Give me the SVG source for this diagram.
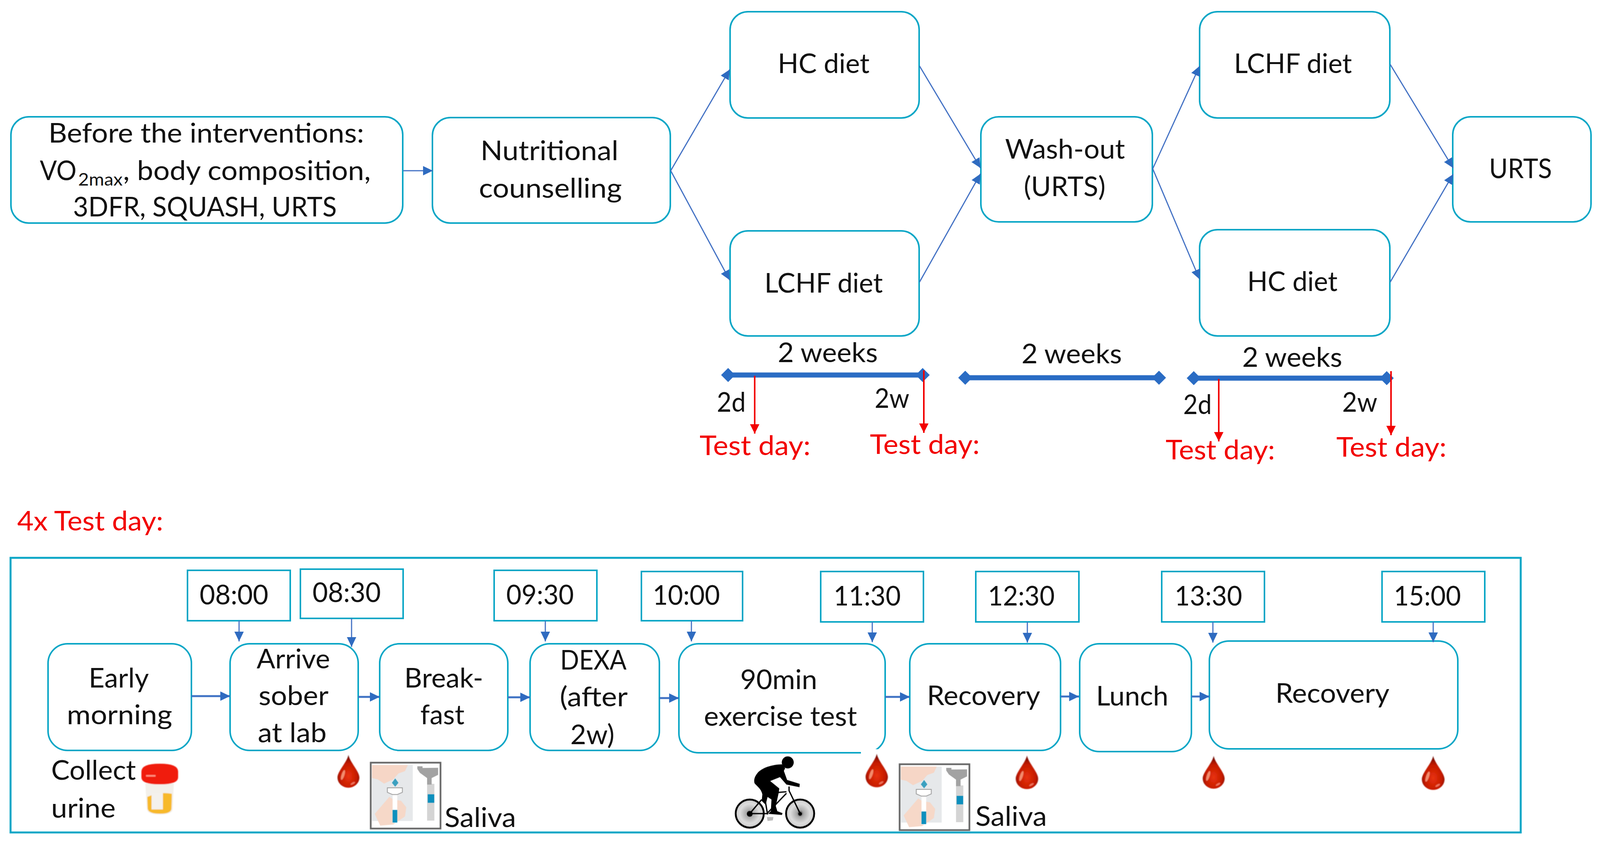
<svg xmlns="http://www.w3.org/2000/svg" width="4097" height="2158" viewBox="0 0 4097 2158">
<style>
text{font-family:"Lato","Carlito","Open Sans",sans-serif;font-size:69px;fill:#111}
.red{fill:#f20000}
.sub{font-size:44px}
.n{fill:#fff;stroke:#0aa6c6;stroke-width:4}
.a{fill:none;stroke:#4472c4;stroke-width:3;marker-end:url(#ah)}
.h{fill:none;stroke:#3f72c4;stroke-width:5;marker-end:url(#ah)}
.b{fill:none;stroke:#2a6cc4;stroke-width:13;marker-start:url(#dm);marker-end:url(#dm)}
.r{fill:none;stroke:#f20000;stroke-width:4;marker-end:url(#ar)}
.soft{filter:url(#sf)}
</style>
<defs>
<filter id="sf" x="-5%" y="-5%" width="110%" height="110%"><feGaussianBlur stdDeviation="1.2"/></filter>
<marker id="ah" markerUnits="userSpaceOnUse" markerWidth="26" markerHeight="26" refX="25" refY="12" orient="auto"><path d="M0,0L25,12L0,24Z" fill="#2f6bc0"/></marker>
<marker id="ar" markerUnits="userSpaceOnUse" markerWidth="26" markerHeight="26" refX="24" refY="12" orient="auto"><path d="M0,0L24,12L0,24Z" fill="#f20000"/></marker>
<marker id="dm" markerUnits="userSpaceOnUse" markerWidth="36" markerHeight="36" refX="18" refY="18" orient="auto"><path d="M0,18L18,0L36,18L18,36Z" fill="#2a6cc4"/></marker>
<radialGradient id="dg" cx=".5" cy=".65" r=".6"><stop offset="0" stop-color="#e83208"/><stop offset=".65" stop-color="#c41a05"/><stop offset="1" stop-color="#6e0800"/></radialGradient>
<radialGradient id="wg" cx=".5" cy=".5" r=".5"><stop offset="0" stop-color="#333"/><stop offset=".25" stop-color="#aaa"/><stop offset=".7" stop-color="#ddd"/><stop offset="1" stop-color="#ccc"/></radialGradient>
<symbol id="drop" viewBox="0 0 60 90"><path d="M30,0C34,20 60,45 60,62C60,78 46,90 30,90C14,90 0,78 0,62C0,45 26,20 30,0Z" fill="url(#dg)"/><ellipse cx="15" cy="55" rx="4" ry="14" transform="rotate(18 15 55)" fill="#ffb090" opacity=".75"/><ellipse cx="42" cy="78" rx="7" ry="2.5" transform="rotate(-30 42 78)" fill="#ff9a80" opacity=".7"/></symbol>
<g id="saliva-art">
<rect x="327" y="157" width="536" height="506" fill="#fff" stroke="#666" stroke-width="13"/>
<rect x="337" y="175" width="313" height="430" fill="#e6e8ea"/>
<path d="M337,175H612L590,222L540,240L500,285L430,318L380,285L337,275Z" fill="#f6d6c6"/>
<path d="M358,550L470,420L500,440L560,450L600,500L590,570L500,632L400,640Z" fill="#f6d8c8"/>
<rect x="495" y="390" width="36" height="230" fill="#fff"/>
<rect x="495" y="520" width="36" height="97" fill="#0e8fbd"/>
<path d="M455,350H570V385L530,402H495L455,385Z" fill="#fff" stroke="#999" stroke-width="6"/>
<path d="M515,278L540,312L515,342L490,312Z" fill="#3aa0c0"/>
<rect x="760" y="320" width="56" height="282" fill="#d4d4d4"/>
<rect x="765" y="400" width="50" height="65" fill="#0e8fbd"/>
<path d="M685,185H725V198L845,196V250L795,275V325H760V275L705,235L685,205Z" fill="#a2a2a2"/>
</g>
</defs>
<rect width="4097" height="2158" fill="#fff"/>

<g id="frame"><rect x="27" y="1428" width="3866" height="703" fill="none" stroke="#0aa6c6" stroke-width="5"/></g>

<g id="node-before"><rect class="n" x="28" y="299" width="1003" height="272" rx="46"/>
<text x="124" y="365" textLength="808" lengthAdjust="spacingAndGlyphs">Before the interventions:</text>
<text y="461"><tspan x="102" textLength="94" lengthAdjust="spacingAndGlyphs">VO</tspan><tspan class="sub" x="200" dy="14" textLength="114" lengthAdjust="spacingAndGlyphs">2max</tspan><tspan x="315" dy="-14" textLength="634" lengthAdjust="spacingAndGlyphs">, body composition,</tspan></text>
<text x="187" y="554" textLength="675" lengthAdjust="spacingAndGlyphs">3DFR, SQUASH, URTS</text></g>
<g id="node-counselling"><rect class="n" x="1107" y="301" width="609" height="270" rx="46"/>
<text x="1230" y="410" textLength="353" lengthAdjust="spacingAndGlyphs">Nutritional</text>
<text x="1226" y="506" textLength="366" lengthAdjust="spacingAndGlyphs">counselling</text></g>
<g id="node-hc1"><rect class="n" x="1869" y="30" width="484" height="272" rx="46"/>
<text x="1991" y="187" textLength="235" lengthAdjust="spacingAndGlyphs">HC diet</text></g>
<g id="node-lchf1"><rect class="n" x="1869" y="591" width="484" height="269" rx="46"/>
<text x="1957" y="749" textLength="303" lengthAdjust="spacingAndGlyphs">LCHF diet</text></g>
<g id="node-washout"><rect class="n" x="2511" y="299" width="439" height="269" rx="46"/>
<text x="2573" y="406" textLength="307" lengthAdjust="spacingAndGlyphs">Wash-out</text>
<text x="2621" y="502" textLength="209" lengthAdjust="spacingAndGlyphs">(URTS)</text></g>
<g id="node-lchf2"><rect class="n" x="3071" y="30" width="487" height="272" rx="46"/>
<text x="3159" y="187" textLength="302" lengthAdjust="spacingAndGlyphs">LCHF diet</text></g>
<g id="node-hc2"><rect class="n" x="3071" y="588" width="487" height="272" rx="46"/>
<text x="3193" y="745" textLength="231" lengthAdjust="spacingAndGlyphs">HC diet</text></g>
<g id="node-urts"><rect class="n" x="3719" y="299" width="354" height="269" rx="46"/>
<text x="3812" y="456" textLength="161" lengthAdjust="spacingAndGlyphs">URTS</text></g>

<g id="node-early"><rect class="n" x="123" y="1648" width="367" height="273" rx="50"/>
<text x="227" y="1760" textLength="154" lengthAdjust="spacingAndGlyphs">Early</text>
<text x="171" y="1854" textLength="270" lengthAdjust="spacingAndGlyphs">morning</text></g>
<g id="node-arrive"><rect class="n" x="589" y="1648" width="328" height="273" rx="50"/>
<text x="657" y="1711" textLength="188" lengthAdjust="spacingAndGlyphs">Arrive</text>
<text x="662" y="1805" textLength="179" lengthAdjust="spacingAndGlyphs">sober</text>
<text x="660" y="1900" textLength="176" lengthAdjust="spacingAndGlyphs">at lab</text></g>
<g id="node-breakfast"><rect class="n" x="972" y="1648" width="328" height="273" rx="50"/>
<text x="1035" y="1760" textLength="202" lengthAdjust="spacingAndGlyphs">Break-</text>
<text x="1076" y="1854" textLength="113" lengthAdjust="spacingAndGlyphs">fast</text></g>
<g id="node-dexa"><rect class="n" x="1357" y="1648" width="331" height="273" rx="50"/>
<text x="1434" y="1714" textLength="170" lengthAdjust="spacingAndGlyphs">DEXA</text>
<text x="1433" y="1808" textLength="174" lengthAdjust="spacingAndGlyphs">(after</text>
<text x="1460" y="1905" textLength="113" lengthAdjust="spacingAndGlyphs">2w)</text></g>
<g id="node-exercise"><rect class="n" x="1738" y="1648" width="528" height="279" rx="50"/>
<rect x="2204" y="1918" width="44" height="16" fill="#fff"/>
<text x="1895" y="1764" textLength="197" lengthAdjust="spacingAndGlyphs">90min</text>
<text x="1802" y="1858" textLength="392" lengthAdjust="spacingAndGlyphs">exercise test</text></g>
<g id="node-recovery1"><rect class="n" x="2329" y="1648" width="386" height="273" rx="50"/>
<text x="2373" y="1805" textLength="290" lengthAdjust="spacingAndGlyphs">Recovery</text></g>
<g id="node-lunch"><rect class="n" x="2764" y="1648" width="286" height="276" rx="50"/>
<text x="2806" y="1806" textLength="185" lengthAdjust="spacingAndGlyphs">Lunch</text></g>
<g id="node-recovery2"><rect class="n" x="3096" y="1641" width="636" height="276" rx="50"/>
<text x="3265" y="1799" textLength="292" lengthAdjust="spacingAndGlyphs">Recovery</text></g>

<g id="time-0800"><rect class="n" x="480" y="1460" width="263" height="129"/><text x="511" y="1547" textLength="176" lengthAdjust="spacingAndGlyphs">08:00</text></g>
<g id="time-0830"><rect class="n" x="769" y="1457" width="263" height="126"/><text x="800" y="1541" textLength="175" lengthAdjust="spacingAndGlyphs">08:30</text></g>
<g id="time-0930"><rect class="n" x="1265" y="1460" width="263" height="129"/><text x="1296" y="1547" textLength="173" lengthAdjust="spacingAndGlyphs">09:30</text></g>
<g id="time-1000"><rect class="n" x="1642" y="1463" width="259" height="126"/><text x="1671" y="1548" textLength="172" lengthAdjust="spacingAndGlyphs">10:00</text></g>
<g id="time-1130"><rect class="n" x="2101" y="1463" width="263" height="129"/><text x="2134" y="1550" textLength="172" lengthAdjust="spacingAndGlyphs">11:30</text></g>
<g id="time-1230"><rect class="n" x="2498" y="1463" width="264" height="129"/><text x="2529" y="1550" textLength="171" lengthAdjust="spacingAndGlyphs">12:30</text></g>
<g id="time-1330"><rect class="n" x="2974" y="1463" width="263" height="129"/><text x="3007" y="1550" textLength="173" lengthAdjust="spacingAndGlyphs">13:30</text></g>
<g id="time-1500"><rect class="n" x="3538" y="1463" width="263" height="129"/><text x="3568" y="1550" textLength="172" lengthAdjust="spacingAndGlyphs">15:00</text></g>

<g id="connectors">
<path class="a" d="M1032,437H1108"/>
<path class="a" d="M1717,437L1868,178"/>
<path class="a" d="M1717,437L1868,717"/>
<path class="a" d="M2354,169L2510,430"/>
<path class="a" d="M2354,722L2510,445"/>
<path class="a" d="M2951,432L3071,169"/>
<path class="a" d="M2951,432L3071,715"/>
<path class="a" d="M3559,165L3720,430"/>
<path class="a" d="M3559,722L3720,446"/>
<path class="h" d="M490,1782H589"/>
<path class="h" d="M917,1784H972"/>
<path class="h" d="M1300,1785H1357"/>
<path class="h" d="M1688,1787H1738"/>
<path class="h" d="M2266,1784H2329"/>
<path class="h" d="M2715,1783H2762"/>
<path class="h" d="M3050,1783H3096"/>
<path class="a" d="M612,1589V1642"/>
<path class="a" d="M900,1583V1656"/>
<path class="a" d="M1396,1589V1642"/>
<path class="a" d="M1770,1589V1642"/>
<path class="a" d="M2233,1592V1644"/>
<path class="a" d="M2630,1592V1645"/>
<path class="a" d="M3105,1592V1645"/>
<path class="a" d="M3669,1592V1644"/>
<path class="b" d="M1864,960H2362"/>
<path class="b" d="M2471,967H2967"/>
<path class="b" d="M3056,968H3550"/>
<path class="r" d="M1932,962V1110"/>
<path class="r" d="M2365,948V1108"/>
<path class="r" d="M3120,970V1130"/>
<path class="r" d="M3561,950V1114"/>
</g>

<g id="timeline-labels">
<text x="1991" y="927" textLength="256" lengthAdjust="spacingAndGlyphs">2 weeks</text>
<text x="2615" y="930" textLength="257" lengthAdjust="spacingAndGlyphs">2 weeks</text>
<text x="3180" y="939" textLength="256" lengthAdjust="spacingAndGlyphs">2 weeks</text>
<text x="1835" y="1054" textLength="74" lengthAdjust="spacingAndGlyphs">2d</text>
<text x="2239" y="1044" textLength="89" lengthAdjust="spacingAndGlyphs">2w</text>
<text x="3029" y="1060" textLength="73" lengthAdjust="spacingAndGlyphs">2d</text>
<text x="3436" y="1054" textLength="90" lengthAdjust="spacingAndGlyphs">2w</text>
<text class="red" x="1791" y="1165" textLength="284" lengthAdjust="spacingAndGlyphs">Test day:</text>
<text class="red" x="2227" y="1162" textLength="281" lengthAdjust="spacingAndGlyphs">Test day:</text>
<text class="red" x="2984" y="1176" textLength="280" lengthAdjust="spacingAndGlyphs">Test day:</text>
<text class="red" x="3421" y="1169" textLength="282" lengthAdjust="spacingAndGlyphs">Test day:</text>
<text class="red" x="44" y="1358" textLength="374" lengthAdjust="spacingAndGlyphs">4x Test day:</text>
</g>

<g id="urine">
<text x="131" y="1996" textLength="217" lengthAdjust="spacingAndGlyphs">Collect</text>
<text x="131" y="2093" textLength="165" lengthAdjust="spacingAndGlyphs">urine</text>
<g class="soft">
<path d="M372,2005H445L442,2072Q440,2085 410,2085Q378,2085 376,2072Z" fill="#f3f0ea"/>
<path d="M377,2040Q410,2026 440,2032L439,2070Q438,2083 410,2083Q380,2083 378,2070Z" fill="#f7b92a"/>
<rect x="388" y="2030" width="29" height="42" fill="#f4f1ec"/>
<path d="M362,1975Q362,1955 409,1955Q456,1955 456,1975V1990Q456,2008 409,2008Q362,2008 362,1990Z" fill="#f01a08"/>
<rect x="374" y="1984" width="24" height="4" fill="#ff9080"/>
</g></g>

<g id="blood-drops" class="soft">
<use href="#drop" x="864" y="1930" width="56" height="89"/>
<use href="#drop" x="2216" y="1928" width="57" height="89"/>
<use href="#drop" x="2599" y="1934" width="60" height="86"/>
<use href="#drop" x="3079" y="1934" width="56" height="86"/>
<use href="#drop" x="3640" y="1934" width="58" height="89"/>
</g>

<g id="saliva-1"><use class="soft" href="#saliva-art" transform="translate(840 1900) scale(.3333)"/>
<text x="1138" y="2117" textLength="183" lengthAdjust="spacingAndGlyphs">Saliva</text></g>
<g id="saliva-2"><use class="soft" href="#saliva-art" transform="translate(2194 1904) scale(.3333)"/>
<text x="2497" y="2114" textLength="183" lengthAdjust="spacingAndGlyphs">Saliva</text></g>

<g id="cyclist" transform="translate(1850 1900) scale(.3333)">
<circle cx="208" cy="548" r="108" fill="url(#wg)" stroke="#000" stroke-width="14"/>
<circle cx="595" cy="548" r="108" fill="url(#wg)" stroke="#000" stroke-width="14"/>
<g fill="none" stroke="#000" stroke-width="10"><path d="M208,548L300,440M208,548H340L490,392M318,395L345,555M318,395L490,380M595,548L510,372V340"/></g>
<circle cx="208" cy="550" r="22" fill="#000"/>
<circle cx="595" cy="550" r="14" fill="#000"/>
<path d="M340,575L390,575L385,600L345,605Z" fill="#bbb"/>
<circle cx="500" cy="155" r="46" fill="#000"/>
<path d="M455,170C380,172 300,195 265,240C245,265 238,290 245,315C265,340 295,355 305,400L300,450L330,480L345,420L375,440L370,530L350,550L455,558L460,545L420,530L408,490L430,390L435,355L365,298L440,268L490,325L590,345L592,320L495,290L470,220L480,200Z" fill="#000"/>
</g>
</svg>
